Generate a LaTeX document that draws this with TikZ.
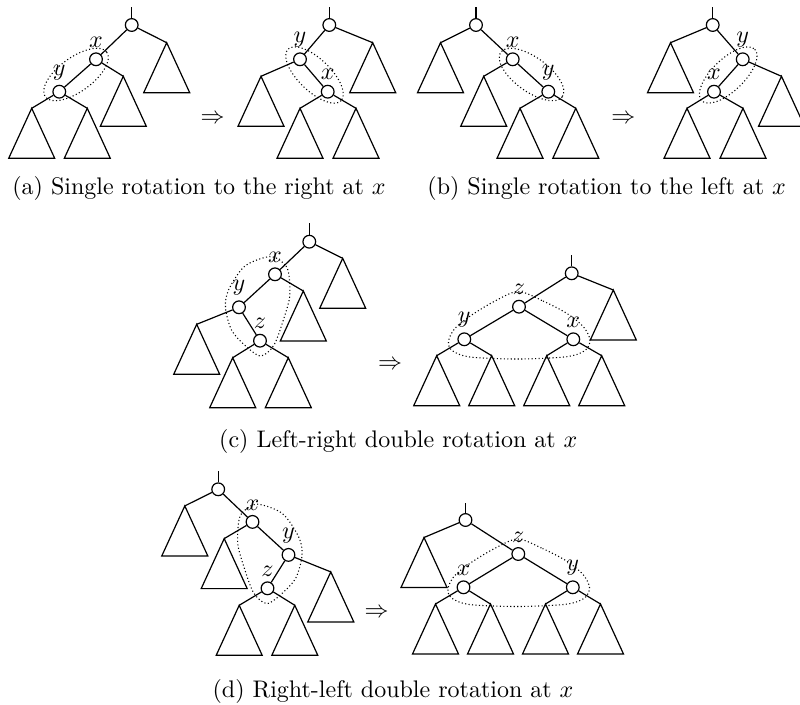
\documentclass[tikz,border=0pt]{standalone}
\begin{document}
\newcommand\subt[1]{\draw[ed] (#1) -- ++(-23,50) -- ++(46,0) -- cycle;}
\begin{tikzpicture}[x=0.41667pt,y=-0.41667pt,
  tn/.style={circle,draw,fill=white,inner sep=0pt,minimum size=5.3pt,line width=0.5pt},
  lbl/.style={anchor=south,inner sep=1.8pt},
  ed/.style={line width=0.5pt},
  grp/.style={densely dotted,line width=0.45pt},
  captxt/.style={anchor=base},
  arr/.style={inner sep=0pt}]
\useasboundingbox (0,0) rectangle (800,704);
\clip (0,0) rectangle (800,704);

% ---------- (a) left ----------
\node[tn] (a1r) at (131.7,25) {};
\coordinate (a1s) at (131.7,7);
\coordinate (a1rt) at (166.7,42.7);
\node[tn] (a1x) at (96,59.3) {};
\coordinate (a1xt) at (123.3,76.3);
\node[tn] (a1y) at (59.3,91.7) {};
\coordinate (a1yl) at (31.7,108.3);
\coordinate (a1yr) at (87.3,108.3);
\draw[ed] (a1r) -- (a1s); \draw[ed] (a1r) -- (a1rt); \draw[ed] (a1r) -- (a1x);
\draw[ed] (a1x) -- (a1xt); \draw[ed] (a1x) -- (a1y);
\draw[ed] (a1y) -- (a1yl); \draw[ed] (a1y) -- (a1yr);
\subt{a1rt}\subt{a1xt}\subt{a1yl}\subt{a1yr}
\node[lbl] (a1xlab) at (a1x.north) {$x$};
\node[lbl] (a1ylab) at (a1y.north) {$y$};
\draw[grp,rotate around={36:(76,74.5)}] (76,74.5) ellipse [x radius=38, y radius=17];

% ---------- (a) right ----------
\node[tn] (a2r) at (329.3,25) {};
\coordinate (a2s) at (329.3,7);
\coordinate (a2rt) at (372.7,42.7);
\node[tn] (a2y) at (300,59.3) {};
\coordinate (a2yt) at (261,76.3);
\node[tn] (a2x) at (327.7,91.7) {};
\coordinate (a2xl) at (300,108.3);
\coordinate (a2xr) at (356,108.3);
\draw[ed] (a2r) -- (a2s); \draw[ed] (a2r) -- (a2rt); \draw[ed] (a2r) -- (a2y);
\draw[ed] (a2y) -- (a2yt); \draw[ed] (a2y) -- (a2x);
\draw[ed] (a2x) -- (a2xl); \draw[ed] (a2x) -- (a2xr);
\subt{a2rt}\subt{a2yt}\subt{a2xl}\subt{a2xr}
\node[lbl] (a2ylab) at (a2y.north) {$y$};
\node[lbl] (a2xlab) at (a2x.north) {$x$};
\draw[grp,rotate around={-44:(314.5,75)}] (314.5,75) ellipse [x radius=37, y radius=16];
\node[arr] (arra) at (212.5,119) {$\Rightarrow$};
\node[captxt] (capa) at (199,194) {(a) Single rotation to the right at $x$};

% ---------- (b) left ----------
\node[tn] (b1r) at (476,25) {};
\coordinate (b1s) at (476,7);
\coordinate (b1rt) at (440.5,42.7);
\node[tn] (b1x) at (512.7,59.3) {};
\coordinate (b1xt) at (483.7,76.3);
\node[tn] (b1y) at (548.3,91.7) {};
\coordinate (b1yl) at (520,108.3);
\coordinate (b1yr) at (575.8,108.3);
\draw[ed] (b1r) -- (b1s); \draw[ed] (b1r) -- (b1rt); \draw[ed] (b1r) -- (b1x);
\draw[ed] (b1x) -- (b1xt); \draw[ed] (b1x) -- (b1y);
\draw[ed] (b1y) -- (b1yl); \draw[ed] (b1y) -- (b1yr);
\subt{b1rt}\subt{b1xt}\subt{b1yl}\subt{b1yr}
\node[lbl] (b1xlab) at (b1x.north) {$x$};
\node[lbl] (b1ylab) at (b1y.north) {$y$};
\draw[grp,rotate around={-36:(531.5,74.5)}] (531.5,74.5) ellipse [x radius=38, y radius=17];

% ---------- (b) right ----------
\node[tn] (b2r) at (712.7,25) {};
\coordinate (b2s) at (712.7,7);
\coordinate (b2rt) at (670.5,42.7);
\node[tn] (b2y) at (742.7,59.3) {};
\coordinate (b2yt) at (781.5,76.3);
\node[tn] (b2x) at (714,91.7) {};
\coordinate (b2xl) at (687,108.3);
\coordinate (b2xr) at (743,108.3);
\draw[ed] (b2r) -- (b2s); \draw[ed] (b2r) -- (b2rt); \draw[ed] (b2r) -- (b2y);
\draw[ed] (b2y) -- (b2yt); \draw[ed] (b2y) -- (b2x);
\draw[ed] (b2x) -- (b2xl); \draw[ed] (b2x) -- (b2xr);
\subt{b2rt}\subt{b2yt}\subt{b2xl}\subt{b2xr}
\node[lbl] (b2ylab) at (b2y.north) {$y$};
\node[lbl] (b2xlab) at (b2x.north) {$x$};
\draw[grp,rotate around={44:(728.2,75)}] (728.2,75) ellipse [x radius=37, y radius=16];
\node[arr] (arrb) at (623.3,119) {$\Rightarrow$};
\node[captxt] (capb) at (606.7,194) {(b) Single rotation to the left at $x$};

% ---------- (c) left ----------
\node[tn] (c1r) at (309.3,241.7) {};
\coordinate (c1s) at (309.3,223.3);
\coordinate (c1rt) at (342.7,258.3);
\node[tn] (c1x) at (275,274.3) {};
\coordinate (c1xt) at (303.3,291);
\node[tn] (c1y) at (239,307.3) {};
\coordinate (c1yt) at (196.7,324.3);
\node[tn] (c1z) at (260,340.7) {};
\coordinate (c1zl) at (232.7,357.7);
\coordinate (c1zr) at (288.3,357.7);
\draw[ed] (c1r) -- (c1s); \draw[ed] (c1r) -- (c1rt); \draw[ed] (c1r) -- (c1x);
\draw[ed] (c1x) -- (c1xt); \draw[ed] (c1x) -- (c1y);
\draw[ed] (c1y) -- (c1yt); \draw[ed] (c1y) -- (c1z);
\draw[ed] (c1z) -- (c1zl); \draw[ed] (c1z) -- (c1zr);
\subt{c1rt}\subt{c1xt}\subt{c1yt}\subt{c1zl}\subt{c1zr}
\node[lbl] (c1xlab) at (c1x.north) {$x$};
\node[lbl] (c1ylab) at (c1y.north) {$y$};
\node[lbl] (c1zlab) at (c1z.north) {$z$};
\draw[grp] plot[smooth cycle] coordinates {(271,256.5) (286,266) (289.5,280) (289.5,298) (284,318) (274,345) (260.5,356) (244,344.5) (231.5,330) (225.5,308) (228.5,290) (245,266)};

% ---------- (c) right ----------
\node[tn] (c2r) at (571.7,273.3) {};
\coordinate (c2s) at (571.7,255);
\coordinate (c2rt) at (613.3,290);
\node[tn] (c2z) at (519,306.7) {};
\node[tn] (c2y) at (464.3,339.3) {};
\node[tn] (c2x) at (573.3,339.3) {};
\coordinate (c2y1) at (436.7,355.7);
\coordinate (c2y2) at (491.7,355.7);
\coordinate (c2x1) at (546.7,355.7);
\coordinate (c2x2) at (601.7,355.7);
\draw[ed] (c2r) -- (c2s); \draw[ed] (c2r) -- (c2rt); \draw[ed] (c2r) -- (c2z);
\draw[ed] (c2z) -- (c2y); \draw[ed] (c2z) -- (c2x);
\draw[ed] (c2y) -- (c2y1); \draw[ed] (c2y) -- (c2y2);
\draw[ed] (c2x) -- (c2x1); \draw[ed] (c2x) -- (c2x2);
\subt{c2rt}\subt{c2y1}\subt{c2y2}\subt{c2x1}\subt{c2x2}
\node[lbl] (c2zlab) at (c2z.north) {$z$};
\node[lbl] (c2ylab) at (c2y.north) {$y$};
\node[lbl] (c2xlab) at (c2x.north) {$x$};
\draw[grp] plot[smooth cycle] coordinates {(518.3,291.5) (543,301) (566.7,313.3) (583.3,326.7) (590,340) (585,350.5) (566.7,356.7) (518.3,359) (470,357) (452,350.5) (448.5,341) (455,328.3) (471.7,315) (495,301)};
\node[arr] (arrc) at (390,365) {$\Rightarrow$};
\node[captxt] (capc) at (398.3,447.5) {(c) Left-right double rotation at $x$};

% ---------- (d) left ----------
\node[tn] (d1r) at (218.2,489.3) {};
\coordinate (d1s) at (218.2,470.9);
\coordinate (d1rt) at (184.8,505.9);
\node[tn] (d1x) at (252.5,521.9) {};
\coordinate (d1xt) at (224.2,538.6);
\node[tn] (d1y) at (288.5,554.9) {};
\coordinate (d1yt) at (330.8,571.9);
\node[tn] (d1z) at (267.5,588.3) {};
\coordinate (d1zl) at (239.2,605.3);
\coordinate (d1zr) at (294.8,605.3);
\draw[ed] (d1r) -- (d1s); \draw[ed] (d1r) -- (d1rt); \draw[ed] (d1r) -- (d1x);
\draw[ed] (d1x) -- (d1xt); \draw[ed] (d1x) -- (d1y);
\draw[ed] (d1y) -- (d1yt); \draw[ed] (d1y) -- (d1z);
\draw[ed] (d1z) -- (d1zl); \draw[ed] (d1z) -- (d1zr);
\subt{d1rt}\subt{d1xt}\subt{d1yt}\subt{d1zl}\subt{d1zr}
\node[lbl] (d1xlab) at (d1x.north) {$x$};
\node[lbl] (d1ylab) at (d1y.north) {$y$};
\node[lbl] (d1zlab) at (d1z.north) {$z$};
\draw[grp] plot[smooth cycle] coordinates {(256.5,504.1) (241.5,513.6) (238,527.6) (238,545.6) (243.5,565.6) (253.5,592.6) (267,603.6) (283.5,592.1) (296,577.6) (302,555.6) (299,537.6) (282.5,513.6)};

% ---------- (d) right ----------
\node[tn] (d2r) at (465.5,520) {};
\coordinate (d2s) at (465.5,502.7);
\coordinate (d2rt) at (424,537.5);
\node[tn] (d2z) at (518.3,554) {};
\node[tn] (d2x) at (463.5,587.3) {};
\node[tn] (d2y) at (572.8,587.3) {};
\coordinate (d2x1) at (435.5,604);
\coordinate (d2x2) at (490.5,604);
\coordinate (d2y1) at (545.5,604);
\coordinate (d2y2) at (600.5,604);
\draw[ed] (d2r) -- (d2s); \draw[ed] (d2r) -- (d2rt); \draw[ed] (d2r) -- (d2z);
\draw[ed] (d2z) -- (d2x); \draw[ed] (d2z) -- (d2y);
\draw[ed] (d2x) -- (d2x1); \draw[ed] (d2x) -- (d2x2);
\draw[ed] (d2y) -- (d2y1); \draw[ed] (d2y) -- (d2y2);
\subt{d2rt}\subt{d2x1}\subt{d2x2}\subt{d2y1}\subt{d2y2}
\node[lbl] (d2zlab) at (d2z.north) {$z$};
\node[lbl] (d2xlab) at (d2x.north) {$x$};
\node[lbl] (d2ylab) at (d2y.north) {$y$};
\begin{scope}[shift={(-0.5,247.5)}]
\draw[grp] plot[smooth cycle] coordinates {(518.3,291.5) (543,301) (566.7,313.3) (583.3,326.7) (590,340) (585,350.5) (566.7,356.7) (518.3,359) (470,357) (452,350.5) (448.5,341) (455,328.3) (471.7,315) (495,301)};
\end{scope}
\node[arr] (arrd) at (376.7,613.3) {$\Rightarrow$};
\node[captxt] (capd) at (393,697) {(d) Right-left double rotation at $x$};
\end{tikzpicture}
\end{document}
